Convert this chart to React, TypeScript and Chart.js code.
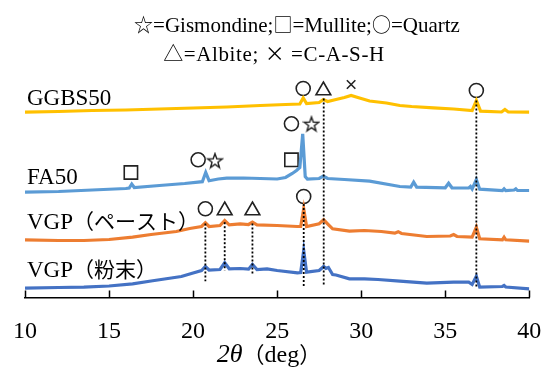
import React, { useEffect, useRef } from "react";
import { Chart, registerables } from "chart.js";

Chart.register(...registerables);

const SERIF = '"Liberation Serif", "Times New Roman", serif';
const CJK = '"Noto Sans CJK JP", sans-serif';

// 2θ range and ticks
const X_MIN = 10;
const X_MAX = 40;
const X_STEP = 5;
const Y_MAX = 237.5;

// GGBS50
const ggbsX = [10, 12, 14, 16, 18, 20, 22, 24, 25.5, 26.35, 26.55, 26.75, 27.5, 27.75, 28, 28.5, 29, 29.4, 29.8, 30.5, 31.5, 32.3, 33, 34.3, 35.5, 36.6, 36.85, 37.1, 38.35, 38.55, 38.75, 40];
const ggbsY = [185.3, 186, 187, 187.5, 188.5, 189.5, 190.5, 192, 193, 193.5, 199.5, 194, 195, 198, 196, 198, 200, 202, 200, 196.5, 194.5, 192, 191, 189.7, 188.5, 187, 197, 186.3, 185.5, 188, 185.5, 185.3];

// FA50
const faX = [10, 12, 14, 16, 16.2, 16.35, 16.5, 18, 19.5, 20.55, 20.75, 20.95, 21.5, 22, 23, 24, 25, 25.5, 25.9, 26.15, 26.35, 26.52, 26.67, 26.8, 27.5, 27.75, 28, 29, 30.5, 32.3, 32.95, 33.12, 33.3, 35, 35.2, 35.4, 36.4, 36.5, 36.6, 36.85, 37.05, 38.4, 38.5, 38.6, 39.1, 39.2, 39.3, 40];
const faY = [105.3, 106, 107.5, 109, 109.5, 113.5, 110, 112, 114, 115.8, 125, 116.8, 118.5, 119.3, 119.5, 119, 118.5, 120, 124, 127, 130, 163.7, 121, 118.5, 119, 121.5, 119, 118, 116.3, 111, 110.5, 115.3, 110.3, 109.7, 114.3, 109.7, 109.5, 111, 108.5, 118, 108.3, 107, 108.7, 107, 107.5, 108.7, 107, 107];

// VGP（ペースト）
const pasteX = [10, 12, 13.5, 15, 16.4, 17.5, 18, 19, 19.8, 20.5, 20.73, 20.95, 21.6, 21.88, 22.15, 22.8, 23.3, 23.53, 23.8, 25, 26.2, 26.4, 26.58, 26.75, 27.5, 27.77, 28.0, 28.3, 29.3, 30.2, 31.2, 32.0, 32.2, 32.4, 33.9, 35.3, 35.5, 35.7, 36.6, 36.85, 37.05, 38.4, 38.5, 38.6, 40];
const pasteY = [57.7, 57, 57, 58, 60.3, 63, 64, 66, 69, 71, 74.7, 71, 72, 77, 72.7, 73.7, 73, 75.3, 72.7, 72, 71, 71, 88.7, 71, 73.7, 77.7, 73.7, 68.7, 66.3, 67, 66, 64.3, 65.8, 64, 61, 61.5, 63, 61, 60.3, 70.3, 58.7, 57.7, 60.3, 57.7, 56.3];

// VGP（粉末）
const powderX = [10, 12, 13.5, 15, 16.4, 17.5, 18.5, 19.3, 20, 20.5, 20.73, 20.95, 21.6, 21.88, 22.15, 22.8, 23.3, 23.53, 23.8, 24.4, 25, 26.2, 26.4, 26.58, 26.75, 27.5, 27.77, 27.9, 28.05, 28.3, 28.5, 29.3, 30.2, 31, 32.3, 33.9, 35.5, 36.4, 36.6, 36.85, 37.05, 38.4, 38.5, 38.6, 40];
const powderY = [9.3, 10, 10.3, 11.5, 13.7, 16.5, 19, 21, 24.5, 27, 31, 27.5, 28, 34.7, 28.7, 29, 28.3, 33, 28, 28.7, 27, 24.7, 25, 47, 25.3, 27, 31, 29, 30, 23, 22.5, 18.7, 18.7, 18, 16.3, 14.3, 15.3, 15.3, 13, 21.3, 10.3, 11, 12, 10.5, 8.7];

// phase markers
const quartzMarks = [
  { x: 26.55, y: 209 },
  { x: 36.85, y: 207 },
  { x: 20.3, y: 137.7 },
  { x: 25.85, y: 173.7 },
  { x: 20.73, y: 88.7 },
  { x: 26.58, y: 101 },
];
const albiteMarks = [
  { x: 27.75, y: 207 },
  { x: 21.88, y: 87 },
  { x: 23.53, y: 87 },
];
const cashMarks = [{ x: 29.4, y: 213 }];
const mulliteMarks = [
  { x: 16.3, y: 125 },
  { x: 25.85, y: 137.7 },
];
const gismondineMarks = [
  { x: 21.3, y: 137 },
  { x: 27.04, y: 173.7 },
];

// dotted reference lines: [2θ, top, bottom]
const refLines = [
  [20.73, 74, 16.3],
  [21.88, 75.3, 27],
  [23.53, 74, 23],
  [26.58, 93.5, 10.3],
  [27.77, 199, 13],
  [36.85, 197, 11],
];

const seriesNames = ["GGBS50", "FA50", "VGP（ペースト）", "VGP（粉末）"];
const labelY = [192.5, 113.5, 69, 21];
const legendLine1 = ["☆", "=Gismondine;", "□", "=Mullite;", "○", "=Quartz"];
const legendLine2 = ["△", "=Albite; ", "×", " =C-A-S-H"];
const xTitle = ["2θ", "（", "deg", "）"];

const zip = (xs: number[], ys: number[]) => xs.map((x, i) => ({ x, y: ys[i] }));

function makeStar(): HTMLCanvasElement {
  const c = document.createElement("canvas");
  const s = 18;
  c.width = s;
  c.height = s;
  const g = c.getContext("2d")!;
  g.strokeStyle = "#222";
  g.lineWidth = 1.4;
  g.lineJoin = "miter";
  const cx = s / 2, cy = s / 2 + 0.8, R = 7.6, r = 3.1;
  g.beginPath();
  for (let i = 0; i < 10; i++) {
    const a = -Math.PI / 2 + (i * Math.PI) / 5;
    const rad = i % 2 === 0 ? R : r;
    const px = cx + rad * Math.cos(a);
    const py = cy + rad * Math.sin(a);
    if (i === 0) g.moveTo(px, py);
    else g.lineTo(px, py);
  }
  g.closePath();
  g.stroke();
  return c;
}

const isCJK = (s: string) => /[（）ぁ-んァ-ン一-龥ー☆□○△×]/.test(s);

function drawSegs(ctx: CanvasRenderingContext2D, x: number, y: number, segs: [string, string][], align: "left" | "center" = "left", spacing = 0) {
  (ctx as any).letterSpacing = spacing + "px";
  let total = 0;
  const widths = segs.map(([t, f]) => {
    ctx.font = f;
    const w = ctx.measureText(t).width;
    total += w;
    return w;
  });
  let cx = align === "center" ? x - total / 2 : x;
  segs.forEach(([t, f], i) => {
    ctx.font = f;
    ctx.fillText(t, cx, y);
    cx += widths[i];
  });
  (ctx as any).letterSpacing = "0px";
}

const textPlugin = {
  id: "xrdText",
  afterDraw(chart: any) {
    const ctx: CanvasRenderingContext2D = chart.ctx;
    const xs = chart.scales.x;
    const ys = chart.scales.y;
    const area = chart.chartArea;
    ctx.save();
    ctx.fillStyle = "#000";
    ctx.textBaseline = "alphabetic";
    ctx.textAlign = "left";

    // inward tick marks
    ctx.strokeStyle = "#000";
    ctx.lineWidth = 1.5;
    for (let v = X_MIN; v <= X_MAX; v += X_STEP) {
      const px = Math.round(xs.getPixelForValue(v)) + 0.5;
      ctx.beginPath();
      ctx.moveTo(px, area.bottom);
      ctx.lineTo(px, area.bottom - 7);
      ctx.stroke();
    }

    // header legend
    const l1 = legendLine1.map((t) => [t, isCJK(t) ? `19px ${CJK}` : `21px ${SERIF}`]) as [string, string][];
    const l2 = legendLine2.map((t) => [t, isCJK(t) ? `20px ${CJK}` : `21px ${SERIF}`]) as [string, string][];
    drawSegs(ctx, 297, 32, l1, "center");
    drawSegs(ctx, 274, 61, l2, "center", 0.6);

    // series labels
    const lx = xs.getPixelForValue(X_MIN) + 2;
    seriesNames.forEach((name, i) => {
      const m = name.match(/^([A-Za-z0-9]+)(.*)$/)!;
      const segs: [string, string][] = [[m[1], `23px ${SERIF}`]];
      if (m[2]) segs.push([m[2], `21px ${CJK}`]);
      drawSegs(ctx, lx, ys.getPixelForValue(labelY[i]), segs);
    });

    // x title
    const tsegs: [string, string][] = [
      [xTitle[0], `italic 26px ${SERIF}`],
      [xTitle[1], `22px ${CJK}`],
      [xTitle[2], `24px ${SERIF}`],
      [xTitle[3], `22px ${CJK}`],
    ];
    drawSegs(ctx, 269, 362, tsegs, "center");
    ctx.restore();
  },
};

export default function App() {
  const ref = useRef<HTMLCanvasElement>(null);
  useEffect(() => {
    document.body.style.margin = "0";
    const star = makeStar();
    const lineDs = (label: string, xs: number[], ys: number[], color: string) => ({
      type: "line" as const,
      label,
      data: zip(xs, ys),
      borderColor: color,
      borderWidth: 3.2,
      pointRadius: 0,
      tension: 0,
      fill: false,
    });
    const markDs = (label: string, data: any[], style: any, radius: number) => ({
      type: "scatter" as const,
      label,
      data,
      pointStyle: style,
      pointRadius: radius,
      pointBorderColor: "#222",
      pointBackgroundColor: "rgba(0,0,0,0)",
      pointBorderWidth: 1.6,
      showLine: false,
    });
    const refDs = refLines.map(([x, t, b], i) => ({
      type: "line" as const,
      label: "ref" + i,
      data: [
        { x, y: t },
        { x, y: b },
      ],
      borderColor: "#000",
      borderWidth: 1.8,
      borderDash: [2, 2],
      pointRadius: 0,
      fill: false,
    }));
    const chart = new Chart(ref.current!, {
      type: "line",
      data: {
        datasets: [
          ...refDs,
          lineDs(seriesNames[3], powderX, powderY, "#4472C4"),
          lineDs(seriesNames[2], pasteX, pasteY, "#ED7D31"),
          lineDs(seriesNames[1], faX, faY, "#5B9BD5"),
          lineDs(seriesNames[0], ggbsX, ggbsY, "#FFC000"),
          markDs("Quartz", quartzMarks, "circle", 7),
          markDs("Albite", albiteMarks, "triangle", 8.5),
          markDs("C-A-S-H", cashMarks, "crossRot", 6),
          markDs("Mullite", mulliteMarks, "rect", 9.4),
          markDs("Gismondine", gismondineMarks, star, 9),
        ] as any,
      },
      options: {
        animation: false,
        responsive: false,
        maintainAspectRatio: false,
        layout: { padding: { top: 60, left: 25, right: 19.7, bottom: 0 } },
        plugins: {
          legend: { display: false },
          title: { display: false },
          tooltip: { enabled: false },
        },
        scales: {
          x: {
            type: "linear",
            min: X_MIN,
            max: X_MAX,
            ticks: {
              stepSize: X_STEP,
              color: "#000",
              font: { family: SERIF, size: 24 },
              padding: 20,
              maxRotation: 0,
            },
            grid: { display: false, drawTicks: false },
            border: { display: true, color: "#000", width: 1.5 },
            afterFit: (s: any) => {
              s.paddingLeft = 0;
              s.paddingRight = 0;
              s.height = 69.5;
            },
          },
          y: { type: "linear", min: 0, max: Y_MAX, display: false },
        },
      },
      plugins: [textPlugin],
    });
    return () => chart.destroy();
  }, []);
  return (
    <div style={{ width: 549, height: 367 }}>
      <canvas ref={ref} width={549} height={367} style={{ display: "block" }} />
    </div>
  );
}
